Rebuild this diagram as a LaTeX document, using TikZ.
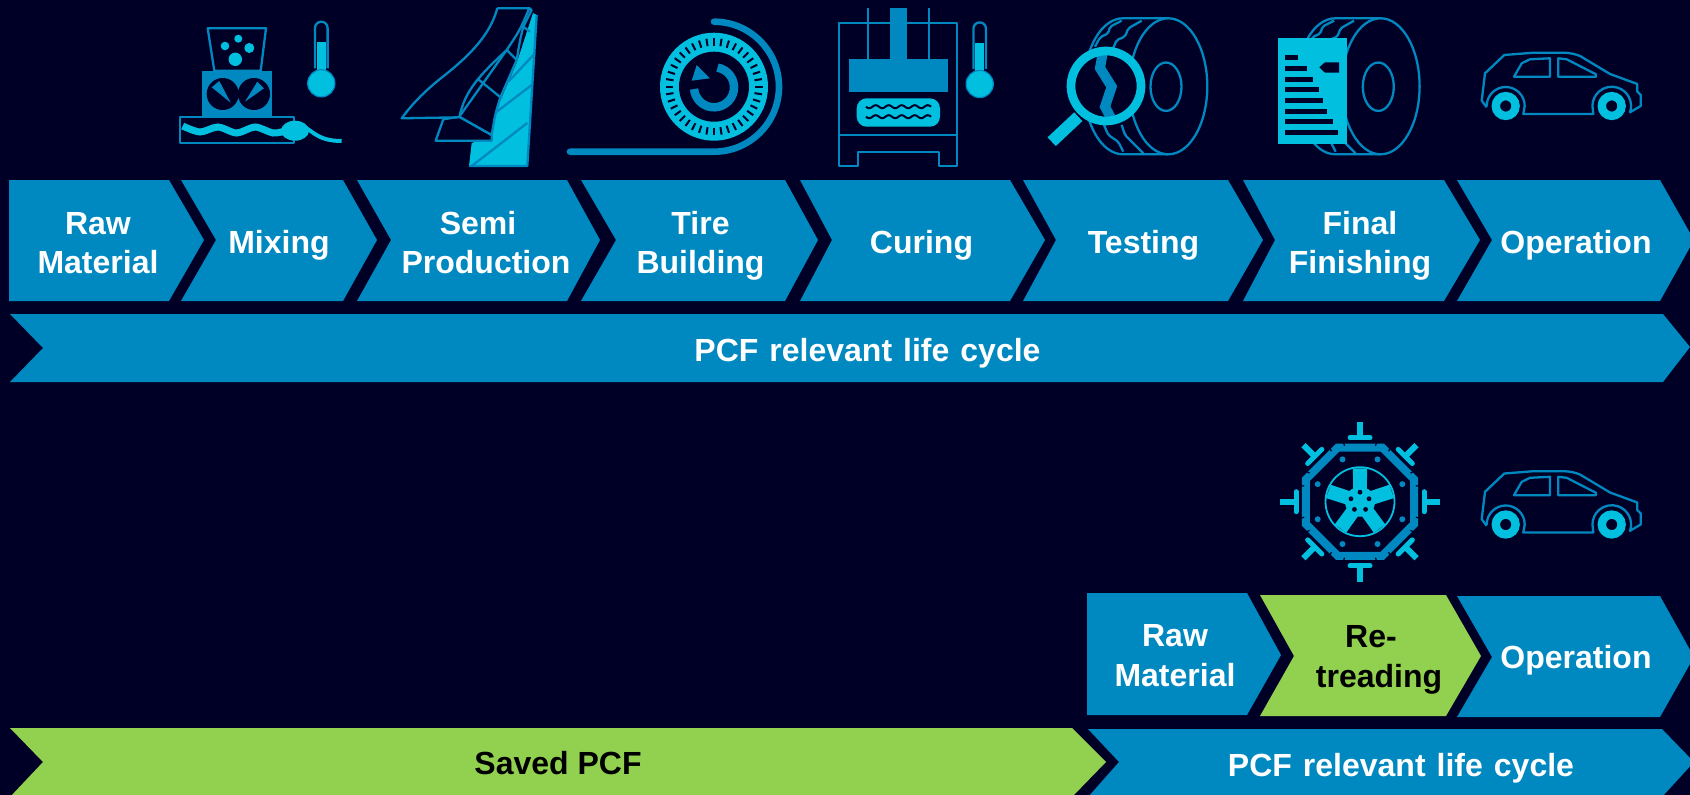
\documentclass[tikz,border=0pt]{standalone}
\usepackage{fontspec}
\setmainfont{Liberation Sans}
\usepackage{tikz}
\definecolor{midnight}{RGB}{0, 0, 38}
\definecolor{cerulean}{RGB}{0, 136, 192}
\definecolor{aqua}{RGB}{0, 191, 223}
\definecolor{leaf}{RGB}{146, 208, 80}
\tikzset{
  whitelabel/.style={align=center, text=white, font=\fontsize{32}{39.5}\selectfont\bfseries},
  blacklabel/.style={whitelabel, text=black},
  iconline/.style={draw=cerulean, line width=2.3, line join=round},
  thermometer/.pic={
    \draw[iconline] (-6.3,-15) -- (-6.3,-55.3) arc[start angle=180, end angle=360, radius=6.3] -- (6.3,-15);
    \fill[aqua] (-4.6,-41) rectangle (4.6,-5);
    \filldraw[draw=cerulean, fill=aqua, line width=1.2] (0,0) circle[radius=13.6];
  },
  car/.pic={
    \draw[iconline] (1486.7,107.3) -- (1481.7,100.7) -- (1485,73.3) -- (1504.3,55) -- (1533.3,52.7) -- (1563.3,52.7)
      .. controls (1571,53) and (1575,54) .. (1580,56) -- (1610,74) -- (1637.3,84) -- (1637.3,91.7) -- (1640.7,95)
      -- (1640.7,106) -- (1630,112.3) arc[start angle=19, end angle=-180, radius=19.3] -- (1593.3,114) -- (1523.3,114)
      -- (1524.7,106) arc[start angle=0, end angle=-180, radius=19];
    \draw[iconline] (1514,76.7) -- (1521.7,63.3) -- (1530,59.3) -- (1550,58.3) -- (1550,76.7) -- cycle;
    \draw[iconline] (1558.3,58.3) -- (1566.7,59.3) -- (1596,74.3) -- (1596,76.7) -- (1558.3,76.7) -- cycle;
    \draw[aqua, line width=8.4] (1505.7,106) circle[radius=9.9];
    \draw[aqua, line width=8.4] (1611.7,106) circle[radius=9.9];
  },
  tyre/.pic={
    \draw[iconline] (1168.3,18.3) -- (1123,18.3) arc[start angle=-90, end angle=-270, x radius=39, y radius=68] -- (1168.3,154.3);
    \draw[iconline, rounded corners=2] (1121.7,20.7) -- (1110,26.7) -- (1108.3,33.3) -- (1100,37.3) -- (1095,46.7);
    \draw[iconline, rounded corners=2] (1141.7,20.7) -- (1128.3,28.3) -- (1125,36.7) -- (1116.7,40) -- (1111.7,51.7);
    \draw[iconline, rounded corners=2] (1103.3,123.3) -- (1108.3,135) -- (1118.3,141.7) -- (1123.3,151.7);
    \draw[iconline, rounded corners=2] (1121.7,125) -- (1125,135) -- (1136.7,146.7) -- (1143.3,153.3);
    \filldraw[iconline, fill=midnight] (1168.3,86.3) ellipse[x radius=39, y radius=68];
    \draw[iconline] (1166,86.7) ellipse[x radius=15.5, y radius=24.2];
  }
}
\begin{document}
\begin{tikzpicture}[x=1pt, y=-1pt]
  \useasboundingbox (0,0) rectangle (1690,795);
  \clip (0,0) rectangle (1690,795);
  \fill[midnight] (0,0) rectangle (1690,795);

  \draw[iconline] (207.7,28.3) -- (266,28.3) -- (260.7,70.7) -- (214.3,70.7) -- cycle;
  \fill[aqua] (238.3,38.7) circle[radius=4] (225,46) circle[radius=4.3] (249.3,48) circle[radius=5] (235.3,59.3) circle[radius=6.7];
  \fill[cerulean] (201.7,70.7) rectangle (271.7,116.7);
  \fill[midnight] (222.7,94) circle[radius=16] (254,94) circle[radius=16];
  \fill[cerulean] (211.7,87.3) -- (219.3,81) -- (230.7,102.7) -- cycle;
  \fill[cerulean] (245,101.7) -- (257.3,81.7) -- (264,88.3) -- cycle;
  \draw[iconline] (180,116.7) rectangle (294.3,143.3);
  \draw[aqua, line width=7] plot[smooth] coordinates {(182.7,126) (200,132) (218,127) (236.7,133) (255,127) (273,133) (285,131)};
  \fill[aqua] (295,130.7) ellipse[x radius=14, y radius=10];
  \draw[aqua, line width=4] (304,127) .. controls (313,131) and (318,141) .. (341.7,141);
  \pic at (321.3,83.3) {thermometer};

  \fill[aqua] (469,166) -- (527.3,166) -- (536.7,15) -- (533,13) -- (516.7,63) -- (495,113) -- (491.7,136.7) -- (471.7,143) -- cycle;
  \draw[iconline] (469,166) -- (527.3,166) -- (536.7,15);
  \draw[iconline] (471.7,166) -- (527.3,123);
  \draw[iconline] (495,113) -- (531.7,85);
  \draw[iconline] (508.3,81.7) -- (535,53.3);
  \filldraw[iconline, fill=midnight] (443.3,119.3) -- (435.7,140.7) -- (491.7,140.7) -- (491.7,135) -- (459.3,116.7) -- cycle;
  \filldraw[iconline, fill=midnight] (529.3,8.3) -- (531.7,10) -- (523.3,26.7) .. controls (520,40) .. (516.7,60) .. controls (508,80) .. (500,98.3) .. controls (495,115) .. (491.7,135) -- (459.3,116.7) -- (506.7,50) -- cycle;
  \draw[iconline] (506.7,50) -- (516.7,60);
  \draw[iconline] (478.3,79.3) -- (501.7,98.3);
  \draw[iconline] (523.3,26.7) -- (530,31.7);
  \filldraw[iconline, fill=midnight] (497.3,8.3) -- (529.3,8.3) .. controls (520,30) .. (506.7,50) .. controls (480,75) and (465,90) .. (459.3,117.3) -- (401.7,118.3) .. controls (415,100) and (430,86.7) .. (445,75) .. controls (470,55) and (490,35) .. (497.3,8.3);

  \draw[cerulean, line width=6.6, line cap=round] (570,151.7) -- (714,151.7) arc[start angle=90, end angle=-90, radius=65];
  \fill[aqua] (714,86.7) circle[radius=54];
  \foreach \tick in {0,9,...,351}
    \draw[midnight, line width=2, shift={(714,86.7)}] (\tick:41) -- (\tick:48.5);
  \fill[midnight] (714,86.7) circle[radius=35];
  \draw[cerulean, line width=8.5] (717.5,67.6) arc[start angle=-80, end angle=175, radius=20];
  \fill[cerulean] (696.7,65) -- (691.7,80.7) -- (710,78.3) -- cycle;

  \draw[iconline] (839.3,23.3) -- (839.3,165.7) -- (858.3,165.7) -- (858.3,152.3) -- (939.3,152.3) -- (939.3,165.7) -- (957.3,165.7) -- (957.3,23.3) -- cycle;
  \draw[iconline] (839.3,135) -- (957.3,135);
  \draw[iconline] (868.3,8) -- (868.3,59);
  \draw[iconline] (929,8) -- (929,59);
  \fill[cerulean] (890,8) rectangle (907.3,59);
  \fill[cerulean] (849.3,59) rectangle (947.7,92.3);
  \fill[aqua, rounded corners=10] (856.7,98.3) rectangle (940,126.7);
  \draw[midnight, line width=2] plot[domain=866:931, samples=60, smooth] (\x,{106.7+1.5*sin((\x-866)*27.7)});
  \draw[midnight, line width=2] plot[domain=866:931, samples=60, smooth] (\x,{116.7+1.5*sin((\x-866)*27.7)});
  \pic at (979.7,84) {thermometer};

  \pic at (0,0) {tyre};
  \fill[midnight] (1106,86) circle[radius=35];
  \draw[cerulean, line width=10] (1103.3,50) -- (1100,68) -- (1111.7,86.7) -- (1105,106.7) -- (1112,120);
  \draw[aqua, line width=8.7] (1106,86) circle[radius=35];
  \draw[aqua, line width=12] (1078.3,116.7) -- (1051.7,141.7);

  \pic at (212.3,0) {tyre};
  \fill[aqua] (1277.7,37.7) rectangle (1347,144.3);
  \foreach \barend/\bartop in {1298.3/55, 1306.7/66, 1313.3/76.7, 1319.3/87.3, 1323.3/98, 1326.7/108.7, 1332.7/119.3, 1338.3/130}
    \fill[midnight] (1285.3,\bartop) rectangle (\barend,\bartop+5);
  \fill[midnight] (1319.3,67.3) -- (1325,62.3) -- (1339,62.3) -- (1339,72.7) -- (1325,72.7) -- cycle;

  \pic at (0,0) {car};
  \pic at (0,418.5) {car};

  \begin{scope}[shift={(1360,501.7)}]
    \draw[cerulean, line width=8, line join=miter] (22.5:58.5) -- (67.5:58.5) -- (112.5:58.5) -- (157.5:58.5) -- (202.5:58.5) -- (247.5:58.5) -- (292.5:58.5) -- (337.5:58.5) -- cycle;
    \foreach \corner in {22.5,67.5,...,337.5} {
      \fill[cerulean] (\corner:45.8) circle[radius=3];
      \draw[midnight, line width=1.2] (\corner-7:58) -- (\corner-7:63);
      \draw[midnight, line width=1.2] (\corner+7:58) -- (\corner+7:63);
    }
    \draw[aqua, line width=1.8] (0,0) circle[radius=34.5];
    \fill[aqua] (0,0) circle[radius=15];
    \foreach \spoke in {-90,-18,54,126,198} {
      \fill[aqua] (\spoke-32:13) -- (\spoke-12:34) -- (\spoke+12:34) -- (\spoke+32:13) -- cycle;
      \fill[midnight] (\spoke:9.5) circle[radius=2.4];
    }
    \foreach \clamp in {0,45,...,315} {
      \begin{scope}[rotate=\clamp]
        \draw[aqua, line width=6] (63,0) -- (80,0);
        \draw[aqua, line width=5, line cap=round] (64,-10) -- (64,10);
      \end{scope}
    }
  \end{scope}

  \fill[cerulean] (9,180) -- (169,180) -- (204,240) -- (169,301) -- (9,301) -- cycle;
  \fill[cerulean] (181,180) -- (343,180) -- (377,240) -- (343,301) -- (181,301) -- (216,240) -- cycle;
  \fill[cerulean] (357,180) -- (567,180) -- (600,240) -- (567,301) -- (357,301) -- (391,240) -- cycle;
  \fill[cerulean] (581,180) -- (785,180) -- (818,240) -- (785,301) -- (581,301) -- (616,240) -- cycle;
  \fill[cerulean] (800,180) -- (1010,180) -- (1045,240) -- (1010,301) -- (800,301) -- (832,240) -- cycle;
  \fill[cerulean] (1023,180) -- (1228,180) -- (1263,240) -- (1228,301) -- (1023,301) -- (1056,240) -- cycle;
  \fill[cerulean] (1243,180) -- (1444,180) -- (1480,240) -- (1444,301) -- (1243,301) -- (1275,240) -- cycle;
  \fill[cerulean] (1457,180) -- (1660,180) -- (1694,240) -- (1660,301) -- (1457,301) -- (1492,240) -- cycle;
  \fill[cerulean] (10,314) -- (1663,314) -- (1690,347) -- (1663,382) -- (10,382) -- (43,348) -- cycle;

  \fill[cerulean] (1087,593) -- (1247,593) -- (1281,655) -- (1247,715) -- (1087,715) -- cycle;
  \fill[leaf]     (1260,595) -- (1446,595) -- (1481,656) -- (1446,716) -- (1260,716) -- (1294,656) -- cycle;
  \fill[cerulean] (1457,596) -- (1660,596) -- (1694,657) -- (1660,717) -- (1457,717) -- (1492,657) -- cycle;
  \fill[leaf]     (10,728) -- (1072,728) -- (1106,762) -- (1072,797) -- (10,797) -- (43,762) -- cycle;
  \fill[cerulean] (1088,729) -- (1662,729) -- (1694,762) -- (1662,797) -- (1088,797) -- (1119,762) -- cycle;

  \node[whitelabel] (rawmaterial)  at (98,243)     {Raw\\Material};
  \node[whitelabel] (mixing)       at (279,245)    {Mixing};
  \node[whitelabel] (semi)         at (486,242.5)  {Semi\hspace*{16pt}\\Production};
  \node[whitelabel] (tirebuilding) at (700.5,246)  {Tire\\Building};
  \node[whitelabel] (curing)       at (921.5,245)  {Curing};
  \node[whitelabel] (testing)      at (1143.5,245) {Testing};
  \node[whitelabel] (finishing)    at (1360,246)   {Final\\Finishing};
  \node[whitelabel] (operation)    at (1576,245)   {Operation};
  \node[whitelabel] (lifecycle)    at (867.5,353)  {\spaceskip=11pt PCF relevant life cycle};
  \node[whitelabel] (rawsecond)    at (1175,655.5) {Raw\\Material};
  \node[blacklabel] (retreading)   at (1379,660)   {Re-\hspace*{16pt}\\treading};
  \node[whitelabel] (opsecond)     at (1576,660)   {Operation};
  \node[blacklabel] (saved)        at (558,763.5)  {Saved PCF};
  \node[whitelabel] (lifesecond)   at (1401,768)   {\spaceskip=11pt PCF relevant life cycle};
\end{tikzpicture}
\end{document}
